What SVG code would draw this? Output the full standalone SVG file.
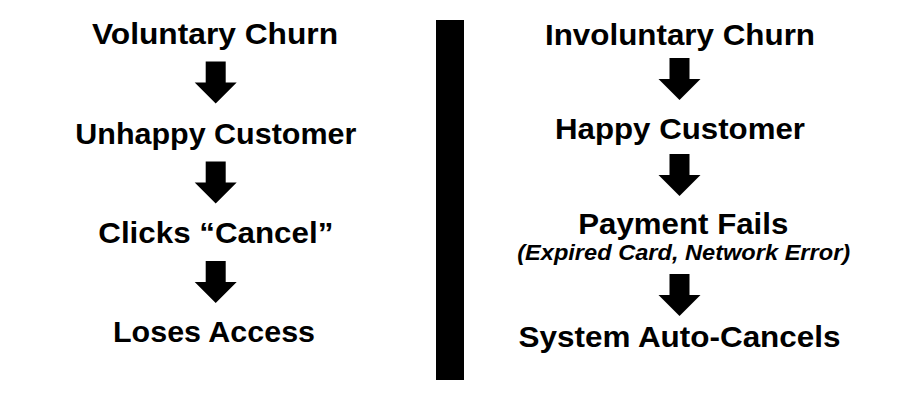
<svg xmlns="http://www.w3.org/2000/svg" width="900" height="400" viewBox="0 0 900 400">
<defs>
<style>
.t{font-family:"Liberation Sans",Arial,sans-serif;font-weight:bold;font-size:30px;fill:#000;text-anchor:middle}
.s{font-family:"Liberation Sans",Arial,sans-serif;font-weight:bold;font-style:italic;font-size:21.5px;fill:#000;text-anchor:middle}
.a{fill:#000}
</style>
<path id="arr" d="M-10,0 H10 V21 H21 L0,42 L-21,21 H-10 Z"/>
</defs>
<rect width="900" height="400" fill="#fff"/>
<rect id="divider" x="436" y="20" width="28" height="360" fill="#000"/>
<g id="vol-title"><text class="t" x="215" y="43.5" textLength="246" lengthAdjust="spacingAndGlyphs">Voluntary Churn</text></g>
<g id="vol-unhappy"><text class="t" x="215.8" y="143.5" textLength="281" lengthAdjust="spacingAndGlyphs">Unhappy Customer</text></g>
<g id="vol-clicks"><text class="t" x="215.8" y="242.5" textLength="235" lengthAdjust="spacingAndGlyphs">Clicks “Cancel”</text></g>
<g id="vol-loses"><text class="t" x="214" y="342" textLength="202" lengthAdjust="spacingAndGlyphs">Loses Access</text></g>
<g id="inv-title"><text class="t" x="680" y="44.5" textLength="270" lengthAdjust="spacingAndGlyphs">Involuntary Churn</text></g>
<g id="inv-happy"><text class="t" x="680" y="138.5" textLength="250" lengthAdjust="spacingAndGlyphs">Happy Customer</text></g>
<g id="inv-payment"><text class="t" x="683.3" y="233.5" textLength="210" lengthAdjust="spacingAndGlyphs">Payment Fails</text><text class="s" x="683.7" y="259.5" textLength="333" lengthAdjust="spacingAndGlyphs">(Expired Card, Network Error)</text></g>
<g id="inv-system"><text class="t" x="679.5" y="346.5" textLength="322" lengthAdjust="spacingAndGlyphs">System Auto-Cancels</text></g>
<g id="connectors" class="a">
<use href="#arr" x="215.7" y="61.5"/>
<use href="#arr" x="215.7" y="161.5"/>
<use href="#arr" x="215.7" y="261"/>
<use href="#arr" x="679.5" y="58"/>
<use href="#arr" x="679.5" y="154"/>
<use href="#arr" x="679.5" y="274"/>
</g>
</svg>
